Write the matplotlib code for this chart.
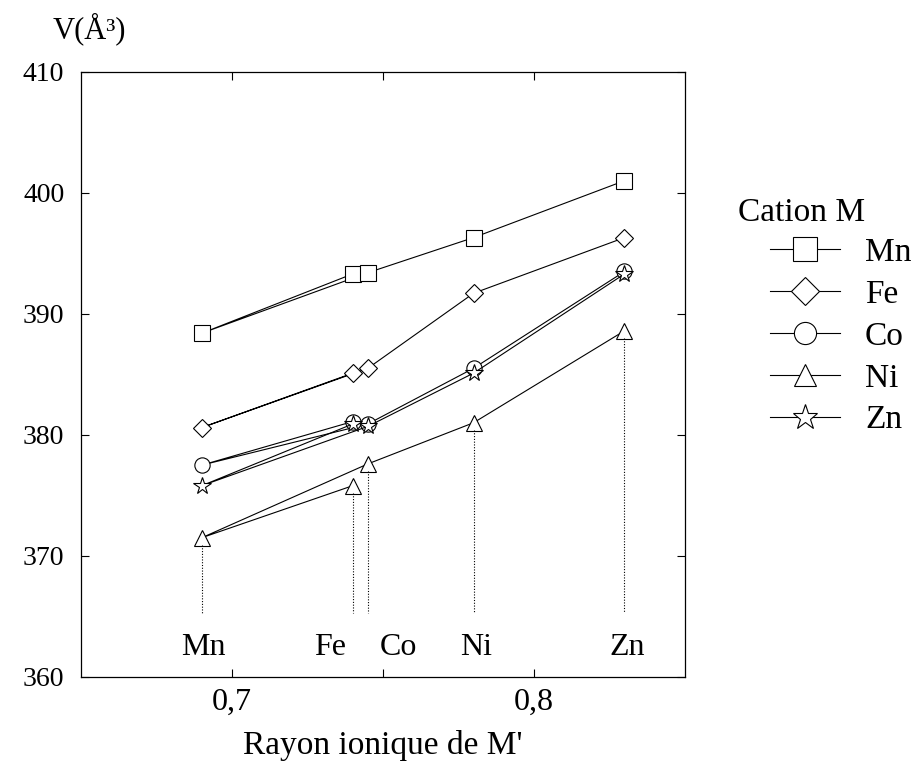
import numpy as np
import matplotlib
matplotlib.use("Agg")
import matplotlib.pyplot as plt
from matplotlib.ticker import FixedLocator

# ionic radius of M' (data order as plotted: Fe, Mn, Co, Ni, Zn)
cations = ["Fe", "Mn", "Co", "Ni", "Zn"]
radius = [0.740, 0.690, 0.745, 0.780, 0.830]

# cell volume V (A^3) for each cation M
vol_Mn = [393.3, 388.4, 393.4, 396.3, 401.0]
vol_Fe = [385.1, 380.6, 385.5, 391.7, 396.3]
vol_Co = [381.1, 377.5, 380.9, 385.5, 393.5]
vol_Ni = [375.8, 371.5, 377.6, 381.0, 388.6]
vol_Zn = [380.9, 375.8, 380.7, 385.1, 393.3]

series = [("Mn", vol_Mn, "s", 11.5), ("Fe", vol_Fe, "D", 9.5),
          ("Co", vol_Co, "o", 11), ("Ni", vol_Ni, "^", 11),
          ("Zn", vol_Zn, "*", 13)]

# labels under the dotted lines
lab_names = ["Mn", "Fe", "Co", "Ni", "Zn"]
lab_x = [0.6906, 0.7325, 0.755, 0.7808, 0.8308]

plt.rcParams["font.family"] = ["Liberation Serif", "DejaVu Serif"]

fig = plt.figure(figsize=(9.15, 7.64), dpi=100)
ax = fig.add_axes([0.0885, 0.114, 0.660, 0.792])

for name, vals, mk, ms in series:
    ax.plot(radius, vals, color="black", lw=0.8, marker=mk, ms=ms,
            mfc="white", mec="black", mew=0.8, label=name)

# dotted drop lines from the Ni triangles
for x, v in zip(radius, vol_Ni):
    ax.plot([x, x], [v - 0.6, 365.3], color="black", lw=0.8, ls=(0, (1, 1.5)))

for name, x in zip(lab_names, lab_x):
    ax.text(x, 362.4, name, ha="center", va="center", fontsize=23)

ax.set_xlim(0.65, 0.85)
ax.set_ylim(360, 410)
ax.xaxis.set_major_locator(FixedLocator([0.7, 0.8]))
ax.xaxis.set_minor_locator(FixedLocator([0.75]))
ax.set_xticklabels(["0,7", "0,8"])
ax.set_yticks([360, 370, 380, 390, 400, 410])
ax.tick_params(which="both", direction="in", top=True, right=True,
               length=6, width=0.8, pad=12)
ax.tick_params(axis="y", labelsize=20)
ax.tick_params(axis="x", labelsize=23, pad=8)
for sp in ax.spines.values():
    sp.set_linewidth(0.9)

ax.set_xlabel("Rayon ionique de M'", fontsize=24, labelpad=9)
fig.text(0.057, 0.962, "V(Å³)", fontsize=22, ha="left", va="center")

fig.text(0.8066, 0.721, "Cation M", fontsize=24, ha="left", va="center")
leg = ax.legend(loc="center left", bbox_to_anchor=(0.8415, 0.5596),
                bbox_transform=fig.transFigure, frameon=False,
                borderpad=0, borderaxespad=0, handlelength=2.1,
                labelspacing=0.34, fontsize=24, markerscale=1.45,
                handletextpad=0.75)

fig.savefig("out.png", dpi=100)
